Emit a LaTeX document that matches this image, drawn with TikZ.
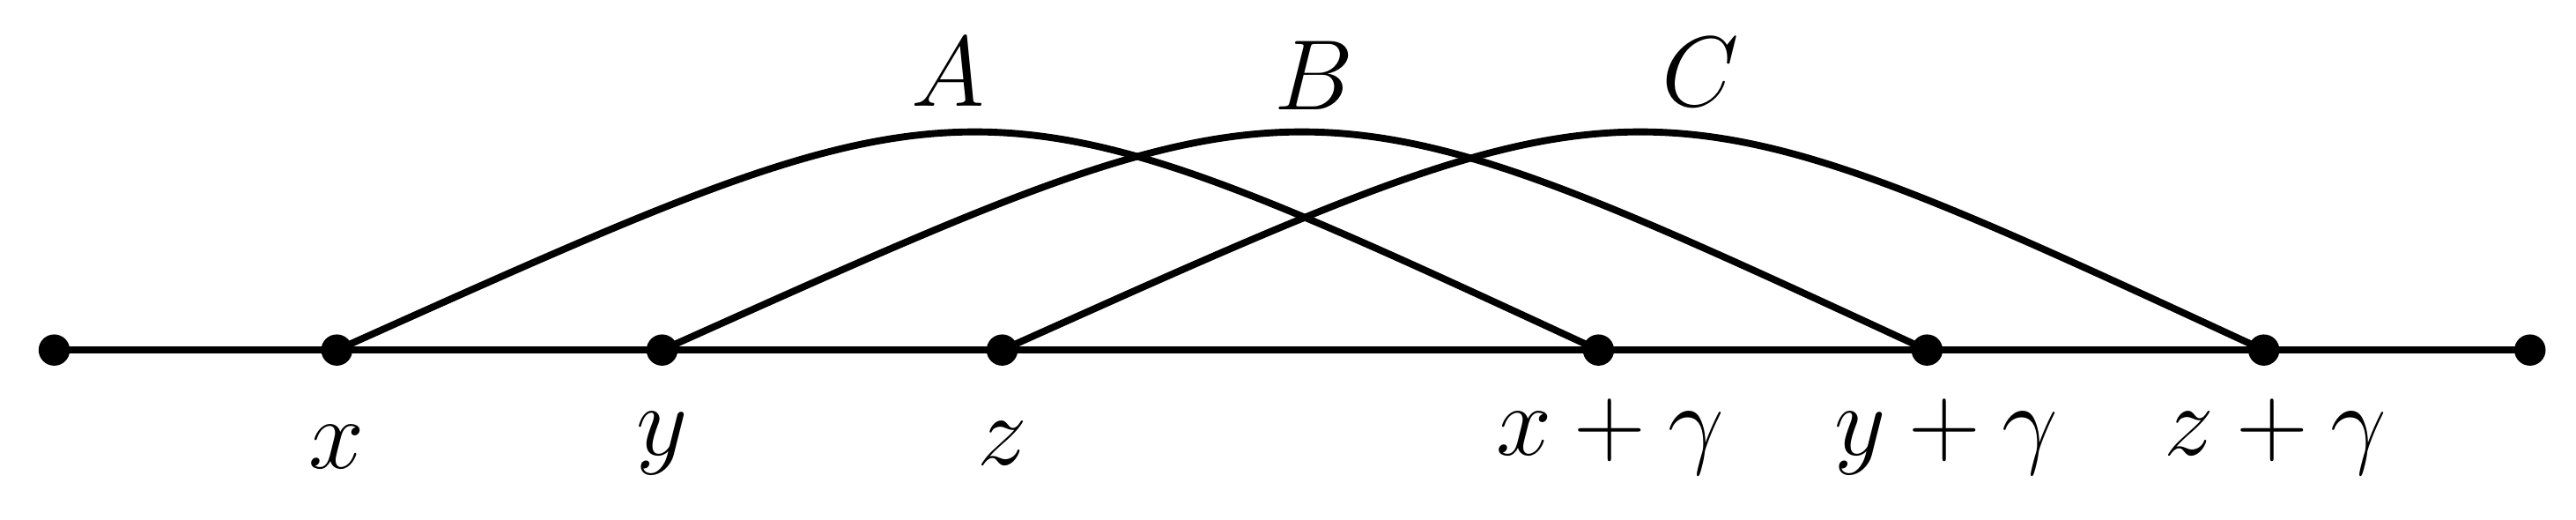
\documentclass[tikz,border=0pt]{standalone}
\begin{document}
\begin{tikzpicture}[x=0.01cm,y=0.01cm,line width=1.2pt,
  dot/.style={circle,fill=black,inner sep=0pt,minimum size=0.19cm},
  lab/.style={font=\LARGE}]
\useasboundingbox (0,0) rectangle (1568,316);
\node[dot] (L) at (33,103) {};
\node[dot] (x) at (205,103) {};
\node[dot] (y) at (403,103) {};
\node[dot] (z) at (610,103) {};
\node[dot] (xg) at (973,103) {};
\node[dot] (yg) at (1173,103) {};
\node[dot] (zg) at (1378,103) {};
\node[dot] (R) at (1540,103) {};
\draw (L.center) -- (R.center);
\node[lab] at (205,44) {$x$};
\node[lab] at (403,46) {$y$};
\node[lab] at (610,46) {$z$};
\node[lab] at (980,50) {$x+\gamma$};
\node[lab] at (1185,50) {$y+\gamma$};
\node[lab] at (1385,50) {$z+\gamma$};
\draw (x.center) .. controls (600,280) and (590,280) .. (xg.center);
\draw (y.center) .. controls (798,280) and (790,280) .. (yg.center);
\draw (z.center) .. controls (1005,280) and (995,280) .. (zg.center);
\node[lab] at (577,272) {$A$};
\node[lab] at (800,270) {$B$};
\node[lab] at (1035,272) {$C$};
\end{tikzpicture}
\end{document}
